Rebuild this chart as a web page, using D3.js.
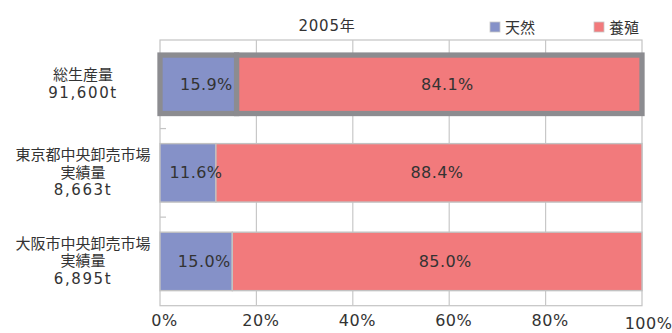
<!DOCTYPE html>
<html>
<head>
<meta charset="utf-8">
<script src="https://cdn.jsdelivr.net/npm/d3@7"></script>
<style>
  html, body { margin: 0; padding: 0; background: #fff; }
  svg { display: block; }
  text { font-family: "DejaVu Sans", "Noto Sans CJK JP", sans-serif; fill: #333; }
</style>
</head>
<body>
<svg id="chart" width="672" height="333"></svg>
<script>
// Share of wild vs. farmed catch, 2005
const title = "2005年";
const categories = [
  ["総生産量", "91,600t"],
  ["東京都中央卸売市場", "実績量", "8,663t"],
  ["大阪市中央卸売市場", "実績量", "6,895t"]
];
const seriesNames = ["天然", "養殖"];
const natural = [15.9, 11.6, 15.0];
const farmed = [84.1, 88.4, 85.0];
const xTicks = [0, 20, 40, 60, 80, 100];
const highlighted = 0; // the total-production row is outlined

const colors = ["#8591c8", "#f27a7c"];

const svg = d3.select("#chart");
const plot = { left: 160, right: 642, top: 40, bottom: 305.7 };

const x = d3.scaleLinear().domain([0, 100]).range([plot.left, plot.right]);
const y = d3.scaleBand()
  .domain(d3.range(categories.length))
  .range([plot.top, plot.bottom])
  .paddingInner(0.34)
  .paddingOuter(0.17);

// plot frame and vertical gridlines
svg.append("rect")
  .attr("x", plot.left).attr("y", plot.top)
  .attr("width", plot.right - plot.left).attr("height", plot.bottom - plot.top)
  .attr("fill", "none").attr("stroke", "#c4c4c4").attr("stroke-width", 1.2);

svg.append("g").selectAll("line")
  .data(xTicks.slice(1, -1))
  .join("line")
  .attr("x1", d => x(d)).attr("x2", d => x(d))
  .attr("y1", plot.top).attr("y2", plot.bottom)
  .attr("stroke", "#c8c8c8").attr("stroke-width", 1.2);

// small inner ticks on the category axis at band boundaries
const step = y.step();
svg.append("g").selectAll("line")
  .data(d3.range(1, categories.length))
  .join("line")
  .attr("x1", plot.left).attr("x2", plot.left + 6)
  .attr("y1", i => y(i) - step * y.paddingInner() / 2)
  .attr("y2", i => y(i) - step * y.paddingInner() / 2)
  .attr("stroke", "#c4c4c4").attr("stroke-width", 1.2);

// stacked segments
const rows = categories.map((c, i) => ({
  i,
  segs: [
    { s: 0, x0: 0, x1: natural[i], v: natural[i] },
    { s: 1, x0: natural[i], x1: natural[i] + farmed[i], v: farmed[i] }
  ]
}));

const rowG = svg.append("g").selectAll("g")
  .data(rows)
  .join("g");

rowG.selectAll("rect")
  .data(r => r.segs.map(s => ({ ...s, i: r.i })))
  .join("rect")
  .attr("x", d => x(d.x0))
  .attr("y", d => y(d.i))
  .attr("width", d => x(d.x1) - x(d.x0))
  .attr("height", y.bandwidth())
  .attr("fill", d => colors[d.s])
  .attr("stroke", d => d.i === highlighted ? "#8c8c90" : "#c2c2c2")
  .attr("stroke-width", d => d.i === highlighted ? 5.3 : 1.4);

rowG.selectAll("text")
  .data(r => r.segs.map(s => ({ ...s, i: r.i })))
  .join("text")
  .attr("x", d => (x(d.x0) + x(d.x1)) / 2 + 8)
  .attr("y", d => y(d.i) + y.bandwidth() / 2)
  .attr("text-anchor", "middle")
  .attr("dominant-baseline", "central")
  .attr("font-size", 16)
  .attr("letter-spacing", 0.4)
  .text(d => d.v.toFixed(1) + "%");

// category labels: kanji lines set tight, figures set a little wider
const lineH = 17.6;
const isFigure = s => /^[0-9,]+t$/.test(s);
svg.append("g").selectAll("text")
  .data(categories)
  .join("text")
  .attr("text-anchor", "middle")
  .attr("font-size", 15)
  .each(function (lines, i) {
    const cy = y(i) + y.bandwidth() / 2;
    const t = d3.select(this);
    lines.forEach((ln, k) => {
      t.append("tspan")
        .attr("x", 83)
        .attr("y", cy + (k - (lines.length - 1) / 2) * lineH)
        .attr("dominant-baseline", "central")
        .attr("letter-spacing", isFigure(ln) ? 1.6 : 0)
        .text(ln);
    });
  });

// percentage axis
const xAxis = svg.append("g")
  .attr("transform", `translate(0,${plot.bottom})`)
  .call(d3.axisBottom(x).tickValues(xTicks).tickFormat(d => d + "%").tickSize(0).tickPadding(9));
xAxis.select(".domain").remove();
xAxis.selectAll("text")
  .attr("font-size", 16)
  .attr("letter-spacing", 0.5)
  .attr("dx", 4)
  .style("font-family", null);
xAxis.selectAll(".tick").filter(d => d === 100).select("text")
  .attr("y", 11.5).attr("dx", 6);

// title
svg.append("text")
  .attr("x", 327).attr("y", 25.5)
  .attr("text-anchor", "middle")
  .attr("dominant-baseline", "central")
  .attr("font-size", 15)
  .attr("letter-spacing", 0.8)
  .text(title);

// legend
const legendX = [490, 594];
const lg = svg.append("g").selectAll("g")
  .data(seriesNames)
  .join("g")
  .attr("transform", (d, i) => `translate(${legendX[i]},22)`);
lg.append("rect")
  .attr("width", 10).attr("height", 10)
  .attr("fill", (d, i) => colors[i])
  .attr("stroke", "#c8c8c8").attr("stroke-width", 0.8);
lg.append("text")
  .attr("x", 15).attr("y", 5.5)
  .attr("dominant-baseline", "central")
  .attr("font-size", 15)
  .text(d => d);
</script>
</body>
</html>
